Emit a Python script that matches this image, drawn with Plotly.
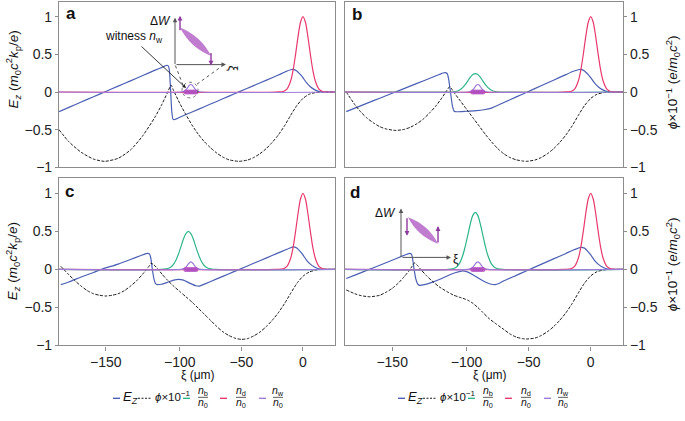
import plotly.graph_objects as go

W, H = 685, 421
XI_RANGE = [-198, 26]
Y_RANGE = [-1, 1.2]

# ---------------- data ----------------
# panel a
ez_xi_a = [-198,-190,-180,-170,-161,-150,-140,-130,-120,-114,-111,-109.5,-108.5,-107.5,-106.5,-105.5,-104,-100,-90,-80,
           -70,-60,-53,-40,-30,-20,-14,-10,-8,-5,-2,0,3,6,9,12,16,26]
ez_a = [-0.26,-0.204,-0.133,-0.063,0.0,0.078,0.148,0.219,0.29,0.33,0.352,0.35,0.30,0.05,-0.25,-0.36,-0.365,-0.335,-0.265,-0.195,
        -0.125,-0.055,-0.005,0.085,0.155,0.225,0.27,0.295,0.30,0.28,0.23,0.19,0.12,0.07,0.035,0.012,0.0,0.0]
phi_xi_a = [-198,-190,-180,-170,-161,-150,-140,-130,-120,-115,-110,-107,-105,-100,-95,-90,-85,-80,-75,-70,
            -65,-60,-52,-45,-40,-35,-30,-25,-20,-15,-10,-5,0,5,10,15,26]
phi_a = [-0.5,-0.66,-0.8,-0.89,-0.92,-0.88,-0.77,-0.58,-0.33,-0.18,-0.01,0.09,0.02,-0.15,-0.3,-0.44,-0.56,-0.66,-0.74,-0.81,
         -0.864,-0.9,-0.92,-0.903,-0.87,-0.82,-0.754,-0.67,-0.57,-0.45,-0.31,-0.18,-0.085,-0.03,-0.008,0,0]

# panel b
ez_xi_b = [-197,-190,-180,-170,-160,-150,-140,-130,-122,-119,-117,-115.5,-114.5,-113,-111.5,-110,-108,-100,-92,-86,
           -80,-70,-60,-52,-40,-30,-20,-14,-10,-8,-5,-2,0,3,6,9,12,16,26]
ez_b = [-0.26,-0.214,-0.148,-0.082,-0.017,0.048,0.114,0.18,0.232,0.252,0.258,0.24,0.17,0.0,-0.18,-0.255,-0.262,-0.255,-0.248,-0.235,
        -0.213,-0.139,-0.065,-0.006,0.083,0.157,0.231,0.275,0.295,0.30,0.28,0.23,0.19,0.12,0.07,0.035,0.012,0.0,0.0]
phi_xi_b = [-197,-190,-185,-180,-175,-170,-165,-157,-150,-145,-140,-135,-130,-125,-120,-116,-113.7,-112,-110,-105,
            -100,-95,-90,-85,-80,-75,-70,-65,-60,-55,-52,-45,-40,-35,-30,-25,-20,-15,-10,-5,0,5,10,15,26]
phi_b = [0.0,-0.17,-0.27,-0.35,-0.41,-0.46,-0.49,-0.51,-0.495,-0.465,-0.42,-0.36,-0.28,-0.19,-0.08,0.02,0.07,0.04,-0.01,-0.12,
         -0.23,-0.34,-0.45,-0.56,-0.66,-0.75,-0.82,-0.87,-0.9,-0.915,-0.92,-0.903,-0.87,-0.82,-0.754,-0.67,-0.57,-0.45,-0.31,-0.18,
         -0.085,-0.03,-0.008,0,0]

# panel c
ez_xi_c = [-196.5,-190,-180,-170,-163.7,-150,-140,-132,-128,-126,-124.5,-123.5,-122.5,-121,-119.5,-118,-115,-110,-105,-101,
           -97,-92,-87,-84,-80,-70,-60,-53,-40,-30,-20,-14,-10,-8,-5,-2,0,3,6,9,12,16,26]
ez_c = [-0.2,-0.165,-0.1,-0.04,0.0,0.07,0.13,0.18,0.205,0.21,0.2,0.15,0.03,-0.12,-0.19,-0.2,-0.195,-0.17,-0.14,-0.13,
        -0.14,-0.18,-0.215,-0.22,-0.193,-0.125,-0.057,-0.009,0.08,0.148,0.217,0.258,0.285,0.295,0.28,0.23,0.19,0.12,0.07,0.035,
        0.012,0.0,0.0]
phi_xi_c = [-196.5,-190,-185,-180,-175,-170,-165,-160,-155,-150,-145,-140,-135,-130,-125,-123.4,-121,-118,-114,-110,
            -105,-100,-95,-90,-85,-80,-75,-70,-65,-60,-55,-50,-45,-40,-35,-30,-25,-20,-15,-10,-5,0,5,10,15,26]
phi_c = [0.04,-0.07,-0.15,-0.22,-0.28,-0.32,-0.34,-0.35,-0.34,-0.32,-0.28,-0.22,-0.15,-0.06,0.04,0.08,0.06,0.01,-0.07,-0.14,
         -0.22,-0.29,-0.36,-0.43,-0.51,-0.59,-0.67,-0.75,-0.82,-0.87,-0.905,-0.92,-0.91,-0.875,-0.825,-0.755,-0.67,-0.57,-0.45,-0.315,
         -0.185,-0.09,-0.035,-0.01,0,0]

# panel d
ez_xi_d = [-197,-190,-180,-170,-160,-152,-148,-146,-144.5,-143.5,-142.5,-141,-139.5,-138,-134,-128,-120,-112,-106,-103,
           -100,-95,-90,-85,-80,-77,-74,-70,-60,-52,-40,-30,-20,-14,-10,-8,-5,-2,0,3,6,9,12,16,26]
ez_d = [-0.12,-0.075,-0.01,0.055,0.12,0.175,0.2,0.21,0.2,0.14,0.02,-0.12,-0.19,-0.21,-0.2,-0.17,-0.12,-0.06,-0.03,-0.02,
        -0.03,-0.07,-0.12,-0.165,-0.195,-0.2,-0.185,-0.15,-0.078,-0.02,0.066,0.138,0.21,0.255,0.28,0.29,0.28,0.23,0.19,0.12,
        0.07,0.035,0.012,0.0,0.0]
phi_xi_d = [-197,-190,-185,-178,-170,-165,-160,-155,-150,-146,-144,-142,-140,-137,-132.5,-128,-122,-116,-111,-106,
            -103,-99,-95,-91,-87,-82,-76,-70,-65,-60,-55,-52,-45,-40,-35,-30,-25,-20,-15,-10,-5,0,5,10,15,26]
phi_d = [-0.27,-0.32,-0.345,-0.36,-0.34,-0.3,-0.25,-0.18,-0.09,-0.01,0.04,0.085,0.06,0.0,-0.08,-0.15,-0.23,-0.29,-0.335,-0.365,
         -0.38,-0.405,-0.445,-0.5,-0.565,-0.645,-0.72,-0.79,-0.85,-0.89,-0.91,-0.915,-0.903,-0.87,-0.82,-0.754,-0.67,-0.57,-0.45,-0.31,
         -0.18,-0.085,-0.03,-0.008,0,0]

# densities
nd_xi = [-198,-22,-16,-13,-10,-8,-6,-4,-2,0,2,4,6,8,10,13,16,22,26]
nd_all = [0,0,0.007,0.039,0.146,0.29,0.5,0.735,0.926,1.0,0.926,0.735,0.5,0.29,0.146,0.039,0.007,0,0]

nb_xi = [-198,-115,-109,-106,-103,-101,-99,-97,-95,-93,-91,-89,-87,-85,-83,-80,-77,-71,26]
nb_b = [0,0,0.007,0.024,0.061,0.10,0.149,0.196,0.232,0.245,0.232,0.196,0.149,0.10,0.061,0.024,0.007,0,0]
nb_c = [0,0,0.015,0.048,0.125,0.205,0.30,0.40,0.47,0.5,0.47,0.40,0.30,0.205,0.125,0.048,0.015,0,0]
nb_d = [0,0,0.022,0.072,0.19,0.31,0.455,0.60,0.71,0.75,0.71,0.60,0.455,0.31,0.19,0.072,0.022,0,0]

nw_xi = [-198,-99,-96,-95,-94,-93,-92,-91,-90,-89,-88,-87,-86,-83,26]
nw_all = [0,0,0.0135,0.028,0.049,0.073,0.092,0.1,0.092,0.073,0.049,0.028,0.0135,0,0]

# witness macro-particles (filled blob at the base of n_w)
wit_xi = [-95,-93,-91,-89,-87]
wit_y = [0,0,0,0,0]

x_ticks = [-160, -100, -50, 0]
x_ticktext = ["−150", "−100", "−50", "0"]
y_ticks = [-1, -0.5, 0, 0.5, 1]
y_ticktext = ["−1", "−0.5", "0", "0.5", "1"]

EZ_C = "#4b5fb4"
PHI_C = "#1a1a1a"
NB_C = "#2fb58a"
ND_C = "#e8396d"
NW_C = "#9d7bd8"
BLOB_C = "#b04cc0"
FRAME_C = "#8c8c8c"
FONT = "Liberation Sans, Arial, sans-serif"

def PX(px): return px / W
def PY(py): return 1 - py / H

panels = [
    dict(xa="x", ya="y", ez=(ez_xi_a, ez_a), phi=(phi_xi_a, phi_a), nb=None),
    dict(xa="x2", ya="y2", ez=(ez_xi_b, ez_b), phi=(phi_xi_b, phi_b), nb=nb_b),
    dict(xa="x3", ya="y3", ez=(ez_xi_c, ez_c), phi=(phi_xi_c, phi_c), nb=nb_c),
    dict(xa="x4", ya="y4", ez=(ez_xi_d, ez_d), phi=(phi_xi_d, phi_d), nb=nb_d),
]

fig = go.Figure()
for p in panels:
    kw = dict(xaxis=p["xa"], yaxis=p["ya"], showlegend=False, hoverinfo="skip", mode="lines")
    fig.add_trace(go.Scatter(x=p["ez"][0], y=p["ez"][1], line=dict(color=EZ_C, width=1.2, shape="spline", smoothing=0.5), **kw))
    fig.add_trace(go.Scatter(x=p["phi"][0], y=p["phi"][1], line=dict(color=PHI_C, width=1, dash="3px,1.5px", shape="spline", smoothing=0.6), **kw))
    if p["nb"] is not None:
        fig.add_trace(go.Scatter(x=nb_xi, y=p["nb"], line=dict(color=NB_C, width=1.2, shape="spline", smoothing=0.8), **kw))
    fig.add_trace(go.Scatter(x=nd_xi, y=nd_all, line=dict(color=ND_C, width=1.2, shape="spline", smoothing=0.8), **kw))
    fig.add_trace(go.Scatter(x=nw_xi, y=nw_all, line=dict(color=NW_C, width=1.2, shape="spline", smoothing=0.6), **kw))
    fig.add_trace(go.Scatter(x=wit_xi, y=wit_y, mode="markers", marker=dict(color=BLOB_C, size=5, opacity=0.85, line=dict(width=0)),
                             xaxis=p["xa"], yaxis=p["ya"], showlegend=False, hoverinfo="skip"))

frame = dict(showline=True, linecolor=FRAME_C, linewidth=1.2, mirror=True, showgrid=False, zeroline=False)
tickfont = dict(family=FONT, size=14, color="#222")

def xax(l, r, anchor, labels):
    d = dict(domain=[PX(l), PX(r)], range=XI_RANGE, anchor=anchor, **frame)
    if labels:
        d.update(ticks="outside", ticklen=4, tickcolor=FRAME_C, tickvals=x_ticks, ticktext=x_ticktext, tickfont=tickfont)
    else:
        d.update(ticks="", showticklabels=False)
    return d

def yax(t, b, anchor, side):
    return dict(domain=[PY(b), PY(t)], range=Y_RANGE, anchor=anchor, side=side, ticks="outside", ticklen=3,
                tickcolor=FRAME_C, tickvals=y_ticks, ticktext=y_ticktext, tickfont=tickfont, **frame)

ann = []
shapes = []

def text(px, py, s, size=12, xanchor="center", yanchor="middle", angle=0, color="#111"):
    ann.append(dict(x=PX(px), y=PY(py), xref="paper", yref="paper", text=s, showarrow=False,
                    xanchor=xanchor, yanchor=yanchor, textangle=angle, font=dict(family=FONT, size=size, color=color)))

def arrow(hx, hy, tx, ty, color="#555", width=1.0, size=0.9, head=2):
    ann.append(dict(x=PX(hx), y=PY(hy), xref="paper", yref="paper", ax=tx - hx, ay=ty - hy, text="",
                    showarrow=True, arrowhead=head, arrowsize=size, arrowwidth=width, arrowcolor=color,
                    standoff=0, startstandoff=0))

def line(x0, y0, x1, y1, color, width=1.2, dash="solid"):
    shapes.append(dict(type="line", xref="paper", yref="paper", x0=PX(x0), y0=PY(y0), x1=PX(x1), y1=PY(y1),
                       line=dict(color=color, width=width, dash=dash)))

def streak(x1, y1, x2, y2, off=4.0):
    mx, my = (x1 + x2) / 2, (y1 + y2) / 2
    dx, dy = x2 - x1, y2 - y1
    n = (dx * dx + dy * dy) ** 0.5
    ux, uy = dy / n, -dx / n
    c1 = (mx + 2 * off * ux, my + 2 * off * uy)
    c2 = (mx - 2 * off * ux, my - 2 * off * uy)
    path = (f"M {PX(x1)},{PY(y1)} Q {PX(c1[0])},{PY(c1[1])} {PX(x2)},{PY(y2)} "
            f"Q {PX(c2[0])},{PY(c2[1])} {PX(x1)},{PY(y1)} Z")
    shapes.append(dict(type="path", xref="paper", yref="paper", path=path, fillcolor="#b565c5",
                       opacity=0.85, line=dict(width=0)))

# panel letters
text(64, 13, "<b>a</b>", size=17, xanchor="left")
text(350, 14, "<b>b</b>", size=17, xanchor="left")
text(63, 195, "<b>c</b>", size=17, xanchor="left")
text(348, 196, "<b>d</b>", size=17, xanchor="left")

# axis titles
ez_title = "<i>E</i><sub><i>z</i></sub> (<i>m</i><sub>0</sub><i>c</i><sup>2</sup><i>k</i><sub>p</sub>/<i>e</i>)"
phi_title = "<i>ϕ</i>×10<sup>−1</sup> (<i>e</i>/<i>m</i><sub>0</sub><i>c</i><sup>2</sup>)"
text(13, 70, ez_title, size=13.5, angle=-90)
text(13, 266, ez_title, size=13.5, angle=-90)
text(673, 83, phi_title, size=13.5, angle=-90)
text(673, 269, phi_title, size=13.5, angle=-90)
text(198, 382, "ξ (μm)", size=12)
text(490, 382, "ξ (μm)", size=12)

# inset in panel a
arrow(175, 17, 175, 65)
arrow(226, 65, 175, 65)
text(173, 20, "Δ<i>W</i>", size=12, xanchor="right")
text(233, 69, "ξ", size=12, angle=90)
streak(180, 27, 211, 56)
arrow(180, 15, 180, 31, color="#8e3a9e", width=1.4, size=0.7)
arrow(211, 66, 211, 52, color="#8e3a9e", width=1.4, size=0.7)
shapes.append(dict(type="circle", xref="paper", yref="paper", x0=PX(182), x1=PX(198), y0=PY(99), y1=PY(83),
                   line=dict(color="#555", width=0.8, dash="dot")))
line(183, 86, 175, 65, "#444", width=0.9, dash="dot")
line(197, 85, 224, 65, "#444", width=0.9, dash="dot")
text(165, 37, "witness <i>n</i><sub>w</sub>", size=12, xanchor="right")
arrow(186, 89, 140, 46, color="#222", width=0.9, size=0.8)

# inset in panel d
arrow(401, 212, 401, 262)
arrow(451, 262, 401, 262)
text(398, 217, "Δ<i>W</i>", size=12, xanchor="right")
text(456, 264, "ξ", size=12)
streak(408, 221, 438, 248)
arrow(407, 240, 407, 221, color="#8e3a9e", width=1.4, size=0.7)
arrow(438, 230, 438, 248, color="#8e3a9e", width=1.4, size=0.7)

# custom legends (one under each column)
def legend(base):
    y = 406
    line(base, y, base + 7, y, EZ_C, 1.4)
    text(base + 8, 405, "<i>E</i><sub><i>Z</i></sub>", size=13, xanchor="left")
    line(base + 25, y, base + 38, y, PHI_C, 1.1, dash="2px,1.5px")
    text(base + 40, 404, "<i>ϕ</i>×10<sup>−1</sup>", size=11.5, xanchor="left")
    fr = [(NB_C, "b", base + 70, base + 90), (ND_C, "d", base + 107, base + 128), (NW_C, "w", base + 146, base + 165)]
    for col, sub, lx, cx in fr:
        line(lx, y, lx + 7, y, col, 1.4)
        text(cx, 399, f"<i>n</i><sub>{sub}</sub>", size=10.5)
        line(cx - 5, 405, cx + 5, 405, "#333", 0.8)
        text(cx, 411, "<i>n</i><sub>0</sub>", size=10.5)

legend(113)
legend(398)

fig.update_layout(
    width=W, height=H, margin=dict(l=0, r=0, t=0, b=0),
    paper_bgcolor="white", plot_bgcolor="white",
    font=dict(family=FONT, size=13, color="#222"),
    xaxis=xax(59, 335, "y", False), yaxis=yax(0.6, 170, "x", "left"),
    xaxis2=xax(345, 623, "y2", False), yaxis2=yax(0.6, 170, "x2", "right"),
    xaxis3=xax(59, 335, "y3", True), yaxis3=yax(181, 352, "x3", "left"),
    xaxis4=xax(345, 623, "y4", True), yaxis4=yax(181, 352, "x4", "right"),
    annotations=ann, shapes=shapes,
)

fig.write_html("out.html", config={"displayModeBar": False},
               post_script="document.body.style.margin='0px';document.body.style.overflow='hidden';")
